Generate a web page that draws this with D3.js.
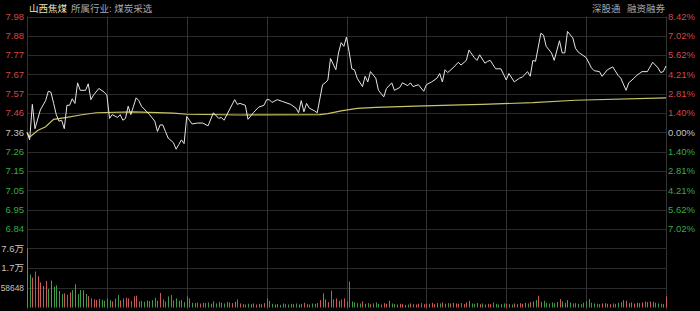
<!DOCTYPE html>
<html>
<head>
<meta charset="utf-8">
<script src="https://cdn.jsdelivr.net/npm/d3@7"></script>
<style>
html, body { margin: 0; padding: 0; background: #000; overflow: hidden; }
svg { display: block; }
text { font-family: "Liberation Sans", Arial, "Noto Sans CJK SC", sans-serif; }
</style>
</head>
<body>
<div id="chart"></div>
<script>
// Chart data
var prevClose = 7.36;
var maxPct = 8.42;

var priceLabels = ["7.98", "7.88", "7.77", "7.67", "7.57", "7.46", "7.36", "7.26", "7.15", "7.05", "6.95", "6.84"];
var pctLabels = ["8.42%", "7.02%", "5.62%", "4.21%", "2.81%", "1.40%", "0.00%", "1.40%", "2.81%", "4.21%", "5.62%", "7.02%"];
var pctTicks = [8.42, 7.02, 5.62, 4.21, 2.81, 1.40, 0, -1.40, -2.81, -4.21, -5.62, -7.02, -8.42];
var volLabels = ["7.6万", "1.7万", "58648"];
var volTicks = [176000, 117297, 58648, 0];

// price line (minute index, price)
var lineMin = [0, 1, 2, 3, 5, 7, 8, 9, 10, 11, 12, 13, 14, 15, 16, 17, 18, 19, 20, 22,
  23, 24, 25, 27, 29, 30, 31, 32, 34, 35, 36, 37, 38, 39, 40, 41, 42, 43, 45, 46,
  48, 49, 50, 51, 52, 53, 55, 56, 57, 58, 59, 60, 61, 62, 64, 66, 68, 70, 72, 73,
  74, 76, 78, 79, 80, 82, 83, 85, 87, 89, 90, 91, 92, 94, 96, 99, 101, 102, 103, 104,
  105, 106, 108, 109, 111, 112, 113, 114, 116, 117, 118, 119, 120, 121, 122, 123, 124, 126, 127, 128,
  129, 131, 132, 134, 135, 137, 138, 140, 141, 143, 144, 145, 147, 149, 150, 152, 154, 155, 156, 157,
  158, 160, 162, 163, 165, 166, 168, 169, 170, 172, 173, 174, 176, 178, 180, 181, 183, 185, 186, 188,
  189, 190, 191, 193, 194, 195, 197, 198, 200, 201, 202, 203, 205, 206, 207, 210, 212, 213, 215, 216,
  218, 220, 222, 223, 225, 226, 228, 229, 230, 231, 233, 235, 237, 238, 239, 240];
var linePrice = [7.36, 7.32, 7.51, 7.38, 7.48, 7.53, 7.58, 7.575, 7.515, 7.455, 7.42, 7.425, 7.38, 7.505, 7.505, 7.54, 7.515, 7.625, 7.585, 7.585,
  7.62, 7.535, 7.56, 7.595, 7.575, 7.56, 7.435, 7.455, 7.44, 7.455, 7.425, 7.435, 7.50, 7.455, 7.50, 7.545, 7.53, 7.50, 7.47, 7.455,
  7.42, 7.365, 7.40, 7.40, 7.365, 7.33, 7.305, 7.27, 7.295, 7.32, 7.30, 7.445, 7.425, 7.405, 7.41, 7.41, 7.395, 7.465, 7.435, 7.44,
  7.425, 7.48, 7.535, 7.51, 7.515, 7.505, 7.43, 7.465, 7.495, 7.505, 7.535, 7.535, 7.52, 7.535, 7.525, 7.51, 7.49, 7.465, 7.53, 7.47,
  7.515, 7.49, 7.475, 7.465, 7.615, 7.625, 7.64, 7.755, 7.695, 7.785, 7.84, 7.82, 7.87, 7.79, 7.70, 7.695, 7.65, 7.605, 7.66, 7.63,
  7.685, 7.65, 7.585, 7.55, 7.595, 7.625, 7.585, 7.60, 7.625, 7.61, 7.625, 7.605, 7.615, 7.58, 7.615, 7.63, 7.65, 7.675, 7.63, 7.695,
  7.68, 7.705, 7.735, 7.72, 7.745, 7.80, 7.76, 7.745, 7.775, 7.73, 7.74, 7.745, 7.70, 7.70, 7.64, 7.675, 7.63, 7.65, 7.655, 7.685,
  7.66, 7.745, 7.74, 7.89, 7.88, 7.82, 7.785, 7.745, 7.85, 7.785, 7.785, 7.90, 7.865, 7.81, 7.79, 7.76, 7.705, 7.69, 7.685, 7.66,
  7.695, 7.71, 7.665, 7.65, 7.585, 7.625, 7.65, 7.665, 7.675, 7.685, 7.685, 7.735, 7.705, 7.68, 7.685, 7.715];

// average price line
var avgMin = [0, 1, 4, 7, 10, 15, 20, 26, 40, 55, 60, 80, 110, 113, 118, 124, 131, 146, 163, 171, 190, 206, 240];
var avgPrice = [7.36, 7.335, 7.37, 7.39, 7.43, 7.44, 7.453, 7.465, 7.47, 7.463, 7.457, 7.453, 7.455, 7.46, 7.475, 7.488, 7.494, 7.50, 7.507, 7.51, 7.519, 7.532, 7.545];

// volume per minute (shares)
var volume = [
  176000, 98000, 89000, 107000, 93000, 75000, 64000, 79000, 55000, 80000,
  62000, 66000, 49000, 40000, 42000, 38000, 45000, 52000, 69000, 40000,
  52000, 51000, 40000, 34000, 27000, 24000, 22000, 25000, 23000, 20000,
  27000, 22000, 18000, 27000, 37000, 21000, 27000, 29000, 27000, 19000,
  33000, 35000, 18000, 20000, 17000, 21000, 19000, 22000, 29000, 20000,
  43000, 24000, 18000, 33000, 37000, 21000, 27000, 20000, 22000, 16000,
  33000, 27000, 14000, 13000, 15000, 12000, 14000, 13000, 15000, 11000,
  18000, 12000, 16000, 14000, 12000, 16000, 15000, 13000, 17000, 24000,
  12000, 10000, 9000, 11000, 10000, 12000, 9000, 11000, 10000, 13000,
  27000, 20000, 11000, 9000, 10000, 8000, 12000, 10000, 9000, 11000,
  10000, 12000, 9000, 11000, 14000, 10000, 9000, 12000, 11000, 13000,
  22000, 42000, 24000, 16000, 50000, 24000, 27000, 20000, 24000, 27000,
  18000, 77000, 18000, 15000, 13000, 12000, 18000, 11000, 13000, 10000,
  12000, 15000, 11000, 9000, 13000, 11000, 20000, 12000, 10000, 9000,
  11000, 10000, 8000, 9000, 12000, 10000, 9000, 11000, 13000, 10000,
  12000, 11000, 14000, 10000, 13000, 12000, 15000, 11000, 13000, 12000,
  14000, 12000, 11000, 13000, 10000, 15000, 20000, 12000, 11000, 13000,
  10000, 12000, 9000, 11000, 10000, 15000, 11000, 9000, 10000, 12000,
  11000, 10000, 9000, 12000, 10000, 13000, 11000, 14000, 12000, 16000,
  18000, 22000, 35000, 17000, 20000, 14000, 12000, 15000, 13000, 16000,
  25000, 18000, 14000, 22000, 15000, 12000, 13000, 11000, 10000, 14000,
  18000, 25000, 14000, 12000, 11000, 10000, 12000, 13000, 11000, 10000,
  12000, 11000, 14000, 16000, 22000, 20000, 13000, 15000, 12000, 14000,
  13000, 15000, 18000, 16000, 18000, 17000, 14000, 12000, 11000, 10000,
  33000];
// up (r) / down (g) per minute
var volDir = (
  "rgrgrrrrgr" + "ggggrgrgrg" + "grgrgrrrgg" + "ggrggrgrrg" + "rrgggggggg" +
  "rggggggrrg" + "rggrgrgggr" + "rggrgrrrrg" + "rgggrrrrrr" + "rggrrggggg" +
  "ggrgrggggg" + "rrrrrgrrgr" + "ggggggrrgr" + "ggggrrrggr" + "rrggrgrrgr" +
  "rrrrrgrrgr" + "rrrgrrrggr" + "rgrrrggggg" + "rrgrrrrrgr" + "rgrrgggggr" +
  "rgrrgggggg" + "ggggggrrrr" + "gggggrrrrr" + "rrgrrrgggr" + "r").split("");

var header = "山西焦煤";
var industry = "所属行业: 煤炭采选";
var tags = ["深股通", "融资融券"];

// Layout
var width = 700, height = 311;
var left = 27, right = 666;
var priceTop = 16.5, priceBottom = 248.3, volBottom = 307.5;

var svg = d3.select("#chart")
  .append("svg")
  .attr("width", width)
  .attr("height", height);

svg.append("rect")
  .attr("width", width)
  .attr("height", height)
  .attr("fill", "#000");

var x = d3.scaleLinear().domain([0, 240]).range([left, right]);
var yPct = d3.scaleLinear().domain([-maxPct, maxPct]).range([priceBottom, priceTop]);
var y = d3.scaleLinear()
  .domain([prevClose * (1 - maxPct / 100), prevClose * (1 + maxPct / 100)])
  .range([priceBottom, priceTop]);
var yVol = d3.scaleLinear().domain([0, volTicks[0]]).range([volBottom, priceBottom]);

var red = "#d04848", green = "#3aa84a", grey = "#c4c4c4";
function tickColor(p) { return p > 0 ? red : (p < 0 ? green : grey); }

// Grid
var grid = svg.append("g").attr("class", "grid");
grid.selectAll(".hline")
  .data(pctTicks)
  .enter()
  .append("line")
  .attr("x1", left).attr("x2", right)
  .attr("y1", function(d) { return Math.round(yPct(d)) + 0.5; })
  .attr("y2", function(d) { return Math.round(yPct(d)) + 0.5; })
  .attr("stroke", "#2a2a2a");

grid.selectAll(".vline-grid")
  .data(volTicks.slice(1, 3))
  .enter()
  .append("line")
  .attr("x1", left).attr("x2", right)
  .attr("y1", function(d) { return Math.round(yVol(d)) + 0.5; })
  .attr("y2", function(d) { return Math.round(yVol(d)) + 0.5; })
  .attr("stroke", "#2a2a2a");

grid.selectAll(".vline")
  .data(d3.range(0, 241, 30))
  .enter()
  .append("line")
  .attr("x1", function(d) { return Math.round(x(d)) + 0.5; })
  .attr("x2", function(d) { return Math.round(x(d)) + 0.5; })
  .attr("y1", priceTop).attr("y2", volBottom + 2)
  .attr("stroke", "#333");

// Axis labels
svg.selectAll(".plabel")
  .data(priceLabels)
  .enter()
  .append("text")
  .attr("x", 24)
  .attr("y", function(d, i) { return yPct(pctTicks[i]); })
  .attr("dy", "0.35em")
  .attr("text-anchor", "end")
  .attr("font-size", 9.5)
  .attr("fill", function(d, i) { return tickColor(pctTicks[i]); })
  .text(function(d) { return d; });

svg.selectAll(".rlabel")
  .data(pctLabels)
  .enter()
  .append("text")
  .attr("x", 668)
  .attr("y", function(d, i) { return yPct(pctTicks[i]); })
  .attr("dy", "0.35em")
  .attr("font-size", 9.5)
  .attr("fill", function(d, i) { return tickColor(pctTicks[i]); })
  .text(function(d) { return d; });

svg.selectAll(".vlabel")
  .data(volLabels)
  .enter()
  .append("text")
  .attr("x", 24)
  .attr("y", function(d, i) { return yVol(volTicks[i]); })
  .attr("dy", "0.35em")
  .attr("text-anchor", "end")
  .attr("font-size", function(d) { return d.length > 4 ? 8.4 : 9.5; })
  .attr("fill", grey)
  .text(function(d) { return d; });

// Volume bars
svg.append("g")
  .selectAll("rect")
  .data(volume)
  .enter()
  .append("rect")
  .attr("x", function(d, i) { return Math.round(x(i)); })
  .attr("width", 1)
  .attr("y", function(d) { return yVol(d); })
  .attr("height", function(d) { return volBottom - yVol(d); })
  .attr("fill", function(d, i) { return volDir[i] === "r" ? "#c85a5a" : "#3c9c46"; });

// Average line
var avgLine = d3.line()
  .x(function(d) { return x(d[0]); })
  .y(function(d) { return y(d[1]); });
svg.append("path")
  .datum(d3.zip(avgMin, avgPrice))
  .attr("d", avgLine)
  .attr("fill", "none")
  .attr("stroke", "#c8c46a")
  .attr("stroke-width", 1.2);

// Price line
svg.append("path")
  .datum(d3.zip(lineMin, linePrice))
  .attr("d", avgLine)
  .attr("fill", "none")
  .attr("stroke", "#e6e6e6")
  .attr("stroke-width", 1);

// Header
svg.append("text")
  .attr("x", 29).attr("y", 9)
  .attr("dy", "0.35em")
  .attr("font-size", 9.5)
  .attr("fill", "#e8e4c0")
  .text(header);
svg.append("text")
  .attr("x", 71).attr("y", 9)
  .attr("dy", "0.35em")
  .attr("font-size", 9.5)
  .attr("fill", "#a8a8a8")
  .text(industry);
svg.selectAll(".tag")
  .data(tags)
  .enter()
  .append("text")
  .attr("x", function(d, i) { return [592, 627][i]; })
  .attr("y", 9)
  .attr("dy", "0.35em")
  .attr("font-size", 9.5)
  .attr("fill", "#a8a8a8")
  .text(function(d) { return d; });
</script>
</body>
</html>
